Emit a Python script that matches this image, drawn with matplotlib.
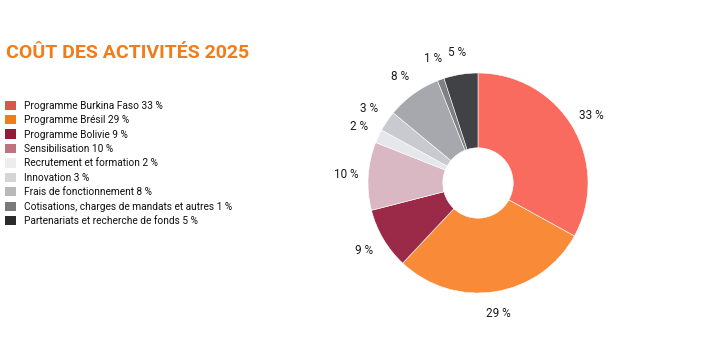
import matplotlib
matplotlib.use("Agg")
import matplotlib.pyplot as plt
from matplotlib.patches import Patch

categories = ["Programme Burkina Faso", "Programme Brésil", "Programme Bolivie",
              "Sensibilisation", "Recrutement et formation", "Innovation",
              "Frais de fonctionnement", "Cotisations, charges de mandats et autres",
              "Partenariats et recherche de fonds"]
values = [33, 29, 9, 10, 2, 3, 8, 1, 5]
slice_colors = ["#F86B5E", "#F98A38", "#9B2A48", "#D9B8C4", "#E6E7EB",
                "#C8CAD0", "#A7A8AD", "#7E8084", "#404245"]
legend_colors = ["#D9574A", "#F07D1A", "#8E1D3B", "#BF737F", "#EDEDED",
                 "#D5D5D5", "#B9B9B9", "#7A7A7A", "#2B2B2B"]
title = "COÛT DES ACTIVITÉS 2025"

plt.rcParams['font.family'] = ["Roboto", "DejaVu Sans"]

fig = plt.figure(figsize=(7.07, 3.63), dpi=100)
fig.patch.set_facecolor("white")

# pie axes: center ~ (478,183) px, radius ~110 px
cx, cy, r = 478 / 707, 1 - 183 / 363, 110
w, h = 2 * r / 707, 2 * r / 363
ax = fig.add_axes([cx - w / 2, cy - h / 2, w, h])
labels = [f"{v} %" for v in values]
wedges, texts = ax.pie(values, colors=slice_colors, startangle=90, counterclock=False,
                       labels=labels, labeldistance=1.2,
                       wedgeprops=dict(width=0.68, edgecolor="white", linewidth=0.4),
                       textprops=dict(fontsize=8.5, color="#1a1a1a"))
for t in texts:
    t.set_horizontalalignment("center")
    t.set_verticalalignment("center")
ax.set_xlim(-1, 1)
ax.set_ylim(-1, 1)
ax.set_aspect("equal")
ax.axis("off")

fig.text(6 / 707, 1 - 58 / 363, title, fontsize=14, fontweight="bold",
         color="#F07D1A", ha="left", va="baseline")

handles = [Patch(facecolor=c, edgecolor="none") for c in legend_colors]
leg_labels = [f"{c} {v} %" for c, v in zip(categories, values)]
fig.legend(handles, leg_labels, loc="upper left", bbox_to_anchor=(0 / 707, 1 - 96 / 363),
           frameon=False, fontsize=7.3, handlelength=1.15, handleheight=1.05,
           handletextpad=0.8, labelspacing=0.42, borderaxespad=0, borderpad=0.45,
           labelcolor="#111111")

fig.savefig("out.png", dpi=100)
